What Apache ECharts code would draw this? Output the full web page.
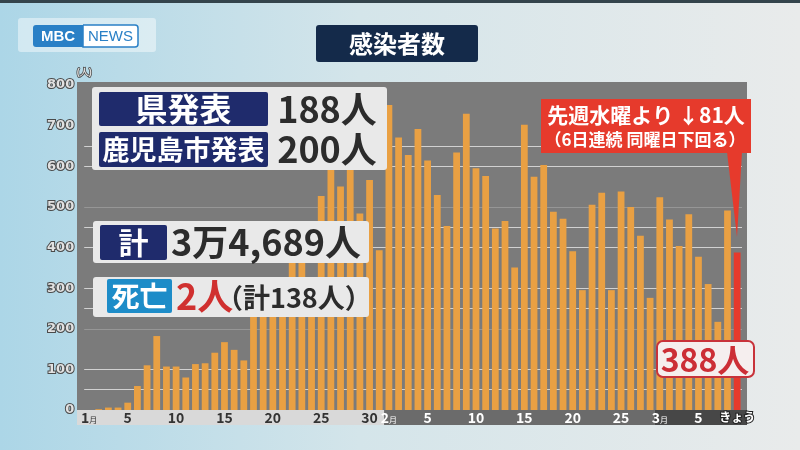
<!DOCTYPE html>
<html><head><meta charset="utf-8">
<script src="https://cdn.jsdelivr.net/npm/echarts@6/dist/echarts.min.js"></script>
<style>html,body{margin:0;padding:0;}#c{width:800px;height:450px;}</style>
</head><body><div id="c"></div>
<script>
// ---- data ----
const janCases = [0, 2, 6, 6, 18, 59, 110, 182, 107, 107, 80, 113, 115, 141, 167, 148, 122,
                  280, 310, 300, 320, 420, 400, 280, 527, 591, 550, 591, 484, 566, 393];
const febCases = [751, 671, 628, 692, 614, 529, 453, 634, 729, 595, 576, 447, 465, 351, 702,
                  574, 603, 488, 471, 391, 295, 505, 535, 295, 538, 500, 429, 276];
const marCases = [524, 469, 404, 482, 377, 310, 217, 491, 388];
const monthNames = ['1月', '2月', '3月'];
const monthData = [janCases, febCases, marCases];
const xTickDays = [5, 10, 15, 20, 25, 30];
const yTickLabels = [0, 100, 200, 300, 400, 500, 600, 700, 800];
const todayLabel = 'きょう';

const categories = [];
const values = [];
monthData.forEach((arr, m) => {
  arr.forEach((v, d) => { categories.push((m + 1) + '/' + (d + 1)); values.push(v); });
});
const lastIdx = values.length - 1;

const FONT = '"Noto Sans CJK JP", "Noto Sans", sans-serif';
const ORANGE = '#e9a043';
const RED = '#e63a2c';

const seriesData = values.map((v, i) => i === lastIdx ? { value: v, itemStyle: { color: RED } } : v);

// gridline colours for ticks 0,50,...,800
const G = 'rgba(225,225,225,0.85)', F = 'rgba(200,200,200,0.35)', N = 'rgba(0,0,0,0)';
const splitColors = [N, G, G, N, F, G, G, N, G, G, F, N, G, G, N, N, N];

const chart = echarts.init(document.getElementById('c'));

function txt(x, y, text, size, color, extra) {
  return {
    type: 'text', z: 100,
    style: Object.assign({ x: x, y: y, text: text, fill: color, font: 'bold ' + size + 'px ' + FONT,
      align: 'center', verticalAlign: 'middle' }, extra || {})
  };
}
function rect(x, y, w, h, fill, r, extra) {
  return { type: 'rect', z: 99, shape: { x: x, y: y, width: w, height: h, r: r || 0 },
    style: Object.assign({ fill: fill }, extra || {}) };
}

const graphics = [
  { type: 'rect', z: -10, shape: { x: 0, y: 0, width: 800, height: 450 },
    style: { fill: new echarts.graphic.LinearGradient(0, 0, 1, 0, [
      { offset: 0, color: '#acd6e7' }, { offset: 0.45, color: '#d4e5ea' }, { offset: 1, color: '#e9ebeb' }]) } },
  { type: 'rect', z: -9, shape: { x: 0, y: 0, width: 800, height: 3 }, style: { fill: '#34444c' } },
  { type: 'rect', z: -5, shape: { x: 77, y: 82, width: 670, height: 328 }, style: { fill: '#7b7b7b' } },
  // logo
  rect(18, 18, 138, 34, 'rgba(255,255,255,0.45)', 3),
  rect(33, 25, 50, 22, '#2a80c6', [3, 0, 0, 3]),
  txt(58, 36.5, 'MBC', 15, '#ffffff', { font: 'bold 15px "Liberation Sans", sans-serif' }),
  rect(83, 25, 55, 22, '#ffffff', [0, 3, 3, 0], { stroke: '#2a80c6', lineWidth: 1.5 }),
  txt(110.5, 36.5, 'NEWS', 15, '#2a80c6', { font: '15px "Liberation Sans Narrow", "Liberation Sans", sans-serif' }),
  // title
  rect(316, 25, 162, 37, '#142a4a', 3),
  txt(397, 44, '感染者数', 24, '#ffffff'),
  // box 1
  rect(92, 87, 295, 83, '#e9e9e9', 3),
  rect(99, 92, 169, 34, '#1f2b6c', 2),
  txt(183.5, 109, '県発表', 32, '#ffffff'),
  rect(99, 132, 169, 35, '#1f2b6c', 2),
  txt(183.5, 149.5, '鹿児島市発表', 27, '#ffffff'),
  txt(327, 109, '188人', 36, '#2c2c2c'),
  txt(327, 149, '200人', 36, '#2c2c2c'),
  // box 2
  rect(93, 221, 276, 42, '#e9e9e9', 3),
  rect(100, 225, 67, 35, '#1f2b6c', 2),
  txt(133.5, 242.5, '計', 30, '#ffffff'),
  txt(171, 242.5, '3万4,689人', 36, '#2c2c2c', { align: 'left' }),
  // box 3
  rect(93, 277, 276, 40, '#e9e9e9', 3),
  rect(107, 279, 65, 34, '#1d8cc8', 2),
  txt(139.5, 296, '死亡', 28, '#ffffff'),
  txt(176, 296, '2人', 36, '#d0302f', { align: 'left' }),
  txt(216, 298, '（計138人）', 27, '#2c2c2c', { align: 'left' }),
  // red callout
  rect(541, 99, 210, 54, RED, 0),
  { type: 'polygon', z: 99, shape: { points: [[727, 152], [742, 152], [737, 237]] }, style: { fill: RED } },
  txt(646, 115.5, '先週水曜より ↓81人', 21, '#ffffff'),
  txt(645, 140, '（6日連続 同曜日下回る）', 17, '#ffffff'),
  // today label
  rect(657, 341, 97, 36, '#f5eeee', 6, { stroke: '#c8323a', lineWidth: 2 }),
  txt(705, 359.5, '388人', 32, '#cc2e36')
];

const option = {
  animation: false,
  grid: { left: 84.2, right: 58, top: 85, bottom: 40, containLabel: false },
  xAxis: {
    type: 'category', data: categories,
    axisLine: { show: false }, axisTick: { show: false },
    axisLabel: {
      interval: 0, margin: 1, hideOverlap: false,
      formatter: function (val, idx) {
        if (idx === lastIdx) return '{t|' + todayLabel + '}';
        const parts = val.split('/'); const m = +parts[0], d = +parts[1];
        const s = m === 1 ? 'd' : 'w';
        if (d === 1) return '{' + s + '|' + m + '}{' + s + 'm|月}';
        if (xTickDays.indexOf(d) >= 0) return '{' + s + '|' + d + '}';
        return '';
      },
      rich: {
        d: { color: '#333333', fontSize: 14, fontFamily: FONT, fontWeight: 'bold' },
        dm: { color: '#333333', fontSize: 8, fontFamily: FONT, padding: [3, 0, 0, 0] },
        w: { color: '#ffffff', fontSize: 14, fontFamily: FONT, fontWeight: 'bold' },
        wm: { color: '#ffffff', fontSize: 8, fontFamily: FONT, padding: [3, 0, 0, 0] },
        t: { color: '#ffffff', fontSize: 12, fontFamily: FONT, fontWeight: 'bold', textBorderColor: '#222', textBorderWidth: 2 }
      }
    }
  },
  yAxis: {
    type: 'value', min: 0, max: 800, interval: 50,
    name: '(人)', nameLocation: 'end', nameGap: 5,
    nameTextStyle: { color: '#ddd', fontSize: 9, fontWeight: 'bold', textBorderColor: '#444', textBorderWidth: 1.5, align: 'center' },
    axisLine: { show: false }, axisTick: { show: false },
    axisLabel: {
      margin: 10,
      formatter: function (v) { return yTickLabels.indexOf(v) >= 0 ? String(v) : ''; },
      color: '#e2e2e2', fontSize: 13, fontWeight: 'bold', fontFamily: '"DejaVu Sans", sans-serif',
      textBorderColor: '#4a4a4a', textBorderWidth: 2
    },
    splitLine: { show: true, lineStyle: { color: splitColors, width: 1 } }
  },
  series: [{
    type: 'bar', data: seriesData, barWidth: '70%', z: 2,
    itemStyle: { color: ORANGE }
  }],
  graphic: graphics
};
chart.setOption(option);

// month strips under the axis, positioned via the category scale
const c0 = chart.convertToPixel({ xAxisIndex: 0 }, 0);
const c1 = chart.convertToPixel({ xAxisIndex: 0 }, 1);
const bw = c1 - c0;
const febStart = chart.convertToPixel({ xAxisIndex: 0 }, janCases.length) - bw / 2;
const marStart = chart.convertToPixel({ xAxisIndex: 0 }, janCases.length + febCases.length) - bw / 2;
const y0 = chart.convertToPixel({ yAxisIndex: 0 }, 0);
const strips = [
  { type: 'rect', z: -4, shape: { x: 77, y: y0, width: febStart - 77, height: 15 }, style: { fill: '#d9d9d9' } },
  { type: 'rect', z: -4, shape: { x: febStart, y: y0, width: marStart - febStart, height: 15 }, style: { fill: '#6b6b6b' } },
  { type: 'rect', z: -4, shape: { x: marStart, y: y0, width: 747 - marStart, height: 15 }, style: { fill: '#474747' } }
];
chart.setOption({ graphic: graphics.concat(strips) });
</script>
</body></html>
